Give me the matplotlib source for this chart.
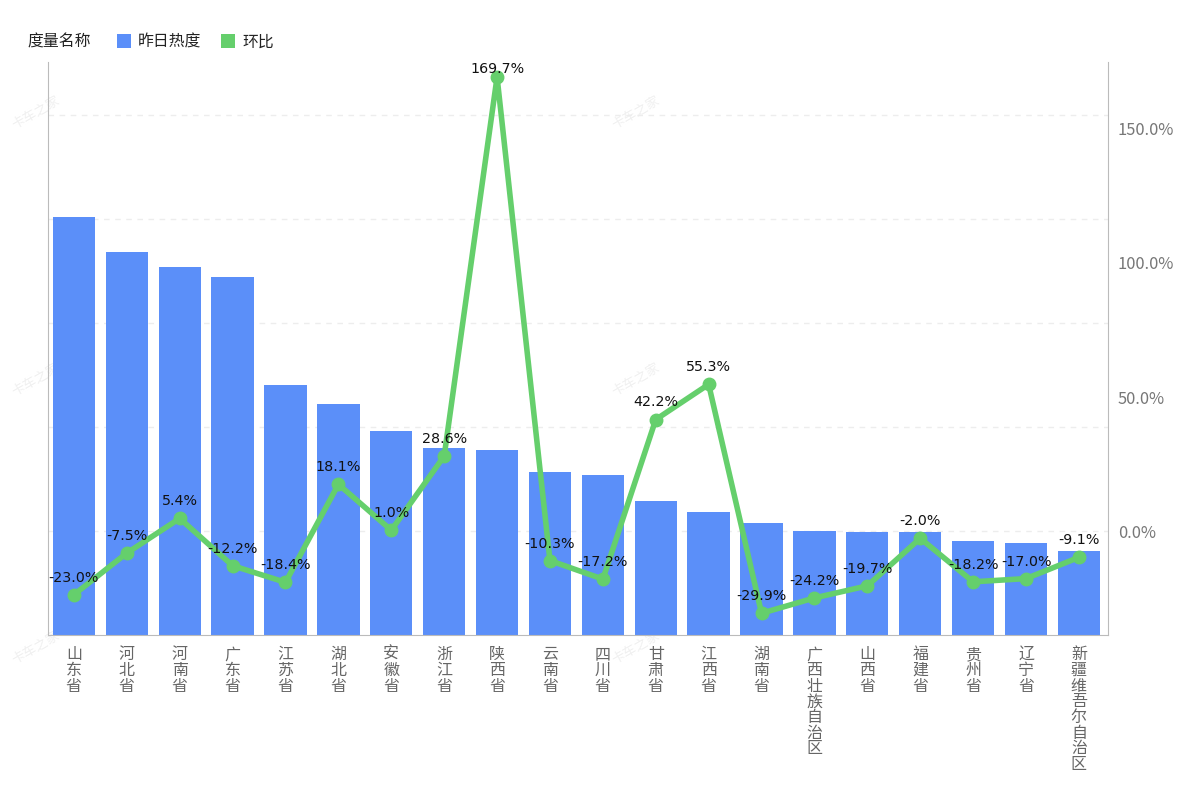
import matplotlib
matplotlib.use('Agg')
import matplotlib.pyplot as plt
from matplotlib.patches import Rectangle
from matplotlib.transforms import ScaledTranslation

plt.rcParams['font.family'] = ['Noto Sans CJK SC', 'DejaVu Sans']

# Daten
provinces = ['山东省', '河北省', '河南省', '广东省', '江苏省', '湖北省', '安徽省', '浙江省', '陕西省', '云南省',
             '四川省', '甘肃省', '江西省', '湖南省', '广西壮族自治区', '山西省', '福建省', '贵州省', '辽宁省', '新疆维吾尔自治区']
heat = [402, 368, 354, 344, 240, 222, 196, 180, 178, 157, 154, 129, 118, 108, 100, 99, 99, 90, 88, 81]
ratio = [-23.0, -7.5, 5.4, -12.2, -18.4, 18.1, 1.0, 28.6, 169.7, -10.3,
         -17.2, 42.2, 55.3, -29.9, -24.2, -19.7, -2.0, -18.2, -17.0, -9.1]
ratio_ticks = [0, 50, 100, 150]
heat_grid = [100, 200, 300, 400, 500]

BLUE = '#5B8FF9'
GREEN = '#65CF6C'
W, H = 1200, 800

fig = plt.figure(figsize=(12, 8), dpi=100)
ax = fig.add_axes([48 / W, 1 - 635 / H, 1060 / W, 573 / H])
ax.patch.set_alpha(0)
x = list(range(len(provinces)))

# Balken
ax.bar(x, heat, width=0.8, color=BLUE, zorder=2)
ax.set_xlim(-0.49, 19.55)
ax.set_ylim(0, 551)
ax.set_yticks(heat_grid)
ax.tick_params(axis='y', length=0, labelleft=False)
ax.grid(axis='y', color='#EDEDED', linestyle=(0, (4, 4)), linewidth=1)
ax.set_axisbelow(True)
ax.set_xticks(x)
ax.set_xticklabels(['\n'.join(p) for p in provinces], fontsize=11.5, color='#666666', linespacing=0.9, va='top')
ax.tick_params(axis='x', length=0, pad=8)
ax.spines['top'].set_visible(False)
ax.spines['right'].set_visible(False)
for s in ['left', 'bottom']:
    ax.spines[s].set_color('#BBBBBB')

# Liniengraph auf zweiter Achse
ax2 = ax.twinx()
ax2.patch.set_alpha(0)
ax2.plot(x, ratio, color=GREEN, linewidth=4, marker='o', markersize=9, solid_joinstyle='miter', zorder=3)
ax2.set_ylim(-38.0, 175.3)
ax2.set_yticks(ratio_ticks)
ax2.set_yticklabels([f'{t:.1f}%' for t in ratio_ticks], fontsize=11.8, color='#777777')
ax2.tick_params(axis='y', length=0, pad=7)
for lbl in ax2.get_yticklabels():
    lbl.set_transform(lbl.get_transform() + ScaledTranslation(0, 1.5 / 100, fig.dpi_scale_trans))
for s in ['top', 'left', 'bottom']:
    ax2.spines[s].set_visible(False)
ax2.spines['right'].set_color('#BBBBBB')

# Beschriftung der Punkte, oben am Rand etwas enger
for i, v in enumerate(ratio):
    off = 5.5 if v > 165 else 12.3
    ax2.annotate(f'{v:.1f}%', (i, v), xytext=(0, off), textcoords='offset points',
                 ha='center', va='center', fontsize=10.3, color='#111111',
                 family='DejaVu Sans', zorder=5)

# Legende
fig.text(27 / W, 1 - 42 / H, '度量名称', fontsize=11.4, color='#222222', va='center', ha='left')
fig.add_artist(Rectangle((117 / W, 1 - 48 / H), 14 / W, 14 / H, transform=fig.transFigure, color=BLUE, lw=0))
fig.text(138 / W, 1 - 42 / H, '昨日热度', fontsize=11.4, color='#222222', va='center', ha='left')
fig.add_artist(Rectangle((221 / W, 1 - 48 / H), 14 / W, 14 / H, transform=fig.transFigure, color=GREEN, lw=0))
fig.text(242 / W, 1 - 42 / H, '环比', fontsize=11.4, color='#222222', va='center', ha='left')

# Wasserzeichen unter den Achsen
for wx in [36, 636]:
    for wy in [113, 380, 648]:
        fig.text(wx / W, 1 - wy / H, '卡车之家', fontsize=9.5, color='#F0F0F0', rotation=30,
                 ha='center', va='center', zorder=-1)

fig.savefig('out.png', dpi=100)
